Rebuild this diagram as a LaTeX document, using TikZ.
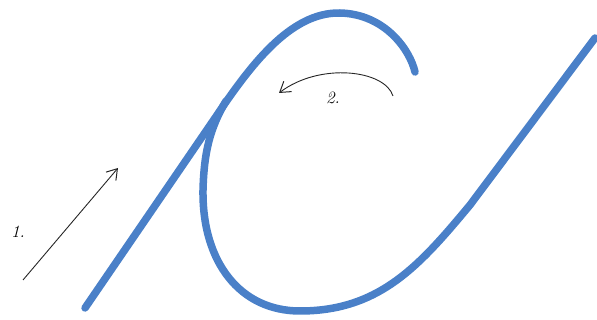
\documentclass[tikz,border=0pt]{standalone}
\usetikzlibrary{arrows.meta}
\definecolor{rope}{RGB}{74,128,200}
\begin{document}
\begin{tikzpicture}[x=1pt,y=-1pt,
  ropeline/.style={draw=rope,line width=7.5pt,line cap=round,line join=round},
  pen/.style={draw=black!85,line width=0.9pt,-{Straight Barb[length=10pt,width=13pt,line width=1pt]}},
  hand/.style={font=\LARGE\itshape}]
\useasboundingbox (0,0) rectangle (597,320);
% rope
\draw[ropeline] (85,308) -- (215,118) .. controls (250,66) and (290,12) .. (340,13)
  .. controls (385,14) and (410,50) .. (415,72);
\draw[ropeline] (226,101) .. controls (210,128) and (204,152) .. (203,190)
  .. controls (202,262) and (240,311) .. (300,311)
  .. controls (380,311) and (420,265) .. (470,205) -- (595,38);
% step arrows
\coordinate (a1s) at (23,280);
\coordinate (a1e) at (118,168);
\draw[pen] (a1s) -- (a1e);
\node[hand] (l1) at (18,232) {1.};
\coordinate (a2s) at (393,96);
\coordinate (a2e) at (279,93);
\draw[pen] (a2s) .. controls (385,70) and (320,62) .. (a2e);
\node[hand] (l2) at (333,98) {2.};
\end{tikzpicture}
\end{document}
